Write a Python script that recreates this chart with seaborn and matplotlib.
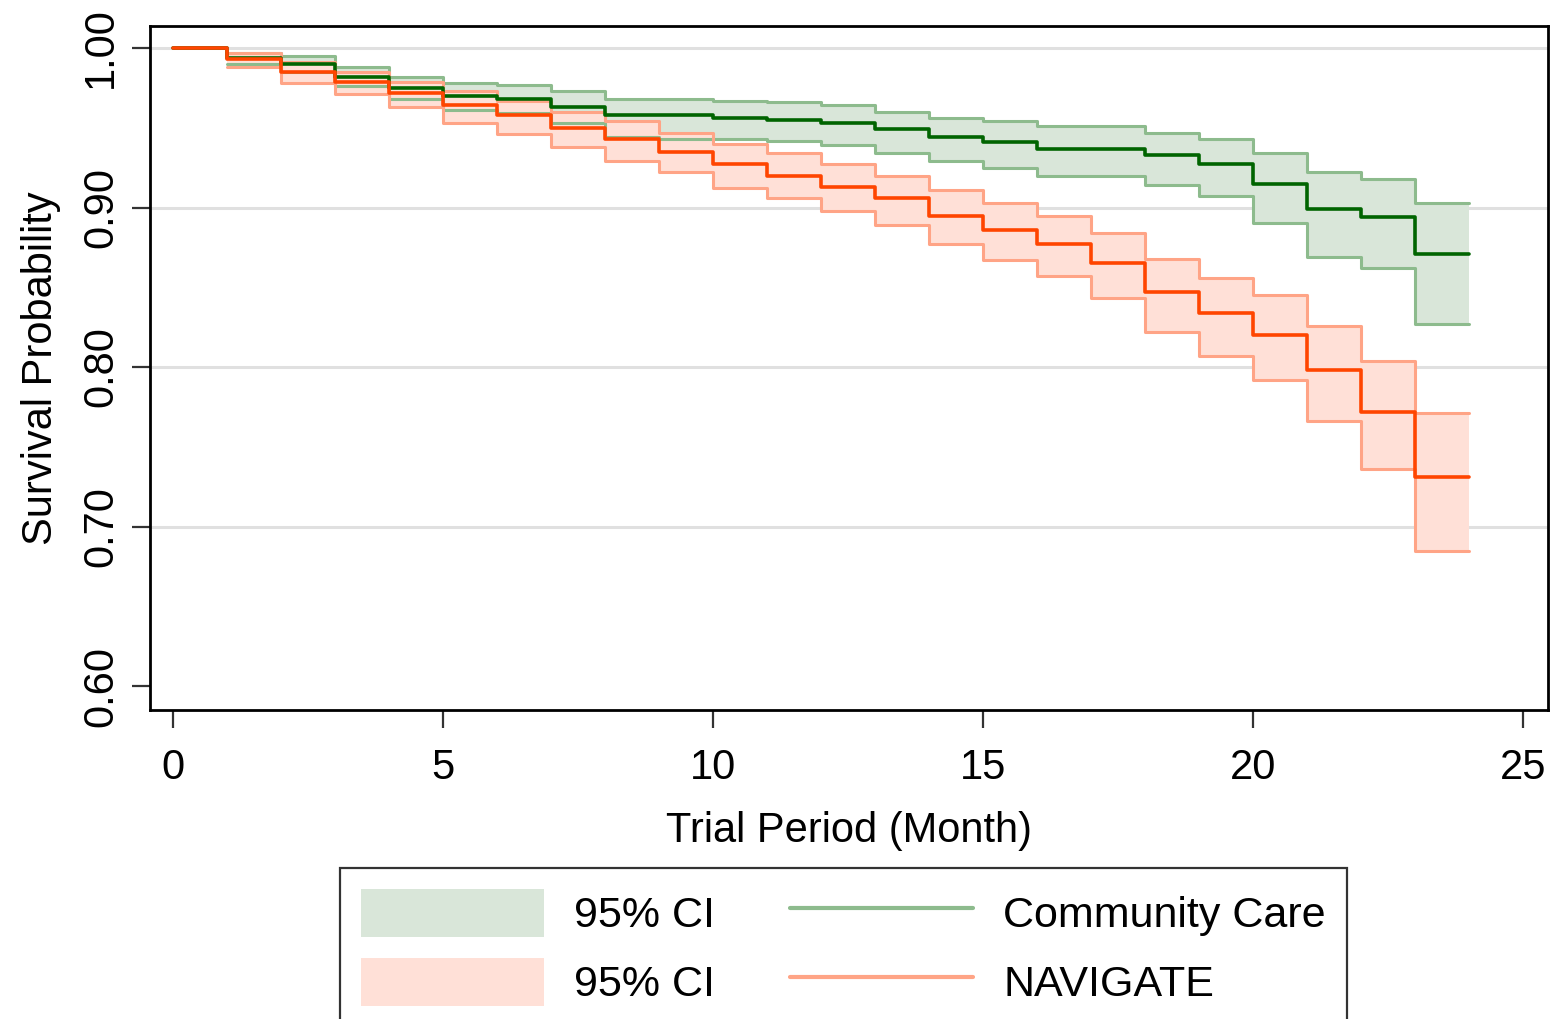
import numpy as np
import pandas as pd
import matplotlib
matplotlib.use("Agg")
import matplotlib.pyplot as plt
from matplotlib.patches import Patch
from matplotlib.lines import Line2D
import seaborn as sns

# months 0..24, value holds until the next month (step after)
months = list(range(25))
cc_surv = [1.000, 0.994, 0.990, 0.982, 0.975, 0.970, 0.968, 0.963, 0.958, 0.958,
           0.956, 0.955, 0.953, 0.949, 0.944, 0.941, 0.937, 0.937, 0.933, 0.927,
           0.915, 0.899, 0.894, 0.871, 0.871]
nav_surv = [1.000, 0.993, 0.985, 0.979, 0.972, 0.964, 0.958, 0.950, 0.943, 0.935,
            0.927, 0.920, 0.913, 0.906, 0.895, 0.886, 0.877, 0.865, 0.847, 0.834,
            0.820, 0.798, 0.772, 0.731, 0.731]

# 95% CI, months 1..24
ci_months = list(range(1, 25))
cc_hi = [0.997, 0.995, 0.988, 0.982, 0.978, 0.977, 0.973, 0.968, 0.968, 0.967,
         0.966, 0.964, 0.960, 0.956, 0.954, 0.951, 0.951, 0.947, 0.943, 0.934,
         0.922, 0.918, 0.903, 0.903]
cc_lo = [0.990, 0.985, 0.976, 0.968, 0.961, 0.959, 0.953, 0.944, 0.943, 0.943,
         0.942, 0.939, 0.934, 0.929, 0.925, 0.920, 0.920, 0.914, 0.907, 0.890,
         0.869, 0.862, 0.827, 0.827]
nav_hi = [0.997, 0.991, 0.985, 0.979, 0.973, 0.967, 0.960, 0.954, 0.947, 0.940,
          0.934, 0.927, 0.920, 0.911, 0.903, 0.895, 0.884, 0.868, 0.856, 0.845,
          0.826, 0.804, 0.771, 0.771]
nav_lo = [0.988, 0.978, 0.971, 0.963, 0.953, 0.946, 0.938, 0.929, 0.922, 0.912,
          0.906, 0.898, 0.889, 0.877, 0.867, 0.857, 0.843, 0.822, 0.807, 0.792,
          0.766, 0.736, 0.685, 0.685]

groups = ["Community Care", "NAVIGATE"]
y_ticks = [0.60, 0.70, 0.80, 0.90, 1.00]
y_grid = [0.70, 0.80, 0.90, 1.00]
x_ticks = [0, 5, 10, 15, 20, 25]

line_col = {"Community Care": "#006400", "NAVIGATE": "#ff4500"}
fill_col = {"Community Care": "#d9e6d9", "NAVIGATE": "#ffe0d7"}
edge_col = {"Community Care": "#8dbb8d", "NAVIGATE": "#ffa486"}

sns.set_style("white")
plt.rcParams["font.family"] = ["Liberation Sans", "DejaVu Sans"]
plt.rcParams["text.color"] = "black"
plt.rcParams["axes.labelcolor"] = "black"
plt.rcParams["xtick.color"] = "black"
plt.rcParams["ytick.color"] = "black"

df = pd.DataFrame({
    "month": months + months,
    "survival": cc_surv + nav_surv,
    "group": [groups[0]] * len(months) + [groups[1]] * len(months),
})

fig = plt.figure(figsize=(15.55, 10.19), dpi=100)
ax = fig.add_axes([0.0965, 0.3032, 0.899, 0.6713])

for y in y_grid:
    ax.axhline(y, color="#e0e0e0", lw=2.2, zorder=0)

bands = [(groups[0], cc_lo, cc_hi), (groups[1], nav_lo, nav_hi)]
for g, lo, hi in bands:
    ax.fill_between(ci_months, lo, hi, step="post", color=fill_col[g], lw=0, zorder=1)
    ax.step(ci_months, hi, where="post", color=edge_col[g], lw=2.2, zorder=2)
    ax.step(ci_months, lo, where="post", color=edge_col[g], lw=2.2, zorder=2)

sns.lineplot(data=df, x="month", y="survival", hue="group", hue_order=groups,
             palette=line_col, estimator=None, drawstyle="steps-post",
             linewidth=2.6, legend=False, ax=ax, zorder=3)

ax.set_xlim(-0.43, 25.46)
ax.set_ylim(0.585, 1.0138)
ax.set_xticks(x_ticks)
ax.set_xticklabels([str(t) for t in x_ticks])
ax.set_yticks(y_ticks)
ax.set_yticklabels([f"{t:.2f}" for t in y_ticks], rotation=90, va="center")
ax.tick_params(axis="both", labelsize=30, length=13, width=1.6, color="#333333",
               direction="out", bottom=True, left=True, labelcolor="black")
ax.tick_params(axis="x", pad=14)
ax.tick_params(axis="y", pad=8)
for s in ax.spines.values():
    s.set_color("black")
    s.set_linewidth(2)

ax.set_xlabel("Trial Period (Month)", fontsize=30, labelpad=17)
ax.set_ylabel("Survival Probability", fontsize=30, labelpad=14)

handles = [
    Patch(facecolor=fill_col[groups[0]], edgecolor="none"),
    Patch(facecolor=fill_col[groups[1]], edgecolor="none"),
    Line2D([], [], color=edge_col[groups[0]], lw=3),
    Line2D([], [], color=edge_col[groups[1]], lw=3),
]
labels = ["95% CI", "95% CI", groups[0], groups[1]]
leg = ax.legend(handles, labels, ncol=2, loc="upper left",
                bbox_to_anchor=(340 / 1555, 1 - 868 / 1019),
                bbox_transform=fig.transFigure, fontsize=31,
                frameon=True, fancybox=False, edgecolor="black",
                handlelength=4.25, handleheight=1.35, handletextpad=0.7,
                columnspacing=1.75, labelspacing=0.48, borderpad=0.48,
                borderaxespad=0)
leg.get_frame().set_linewidth(1.6)

fig.savefig("out.png", dpi=100)
